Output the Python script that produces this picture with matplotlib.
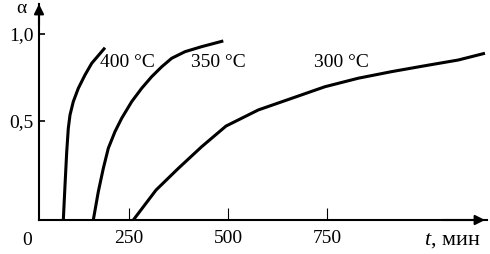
import matplotlib
matplotlib.use("Agg")
import matplotlib.pyplot as plt
import matplotlib.transforms as mtransforms

plt.rcParams['font.family'] = ['Liberation Serif', 'DejaVu Serif']
plt.rcParams['mathtext.fontset'] = 'custom'
plt.rcParams['mathtext.it'] = 'Liberation Serif:italic'
plt.rcParams['mathtext.rm'] = 'Liberation Serif'

# Data (t in minutes, alpha)
t_400 = [84.1, 88.4, 92.7, 96.7, 101.0, 109.3, 122.0, 138.9, 155.8, 189.4]
a_400 = [-0.073, 0.129, 0.321, 0.456, 0.533, 0.610, 0.687, 0.764, 0.831, 0.921]

t_350 = [159.8, 172.5, 185.1, 197.7, 214.6, 231.5, 256.8, 282.0, 307.3, 332.6,
         357.8, 391.4, 433.5, 488.1]
a_350 = [-0.073, 0.091, 0.225, 0.341, 0.437, 0.514, 0.610, 0.687, 0.754, 0.811,
         0.860, 0.898, 0.927, 0.960]

t_300 = [260.8, 318.2, 374.5, 433.5, 494.9, 576.5, 660.8, 744.9, 829.0, 913.3,
         997.4, 1081.5, 1148.9]
a_300 = [-0.073, 0.100, 0.225, 0.350, 0.469, 0.562, 0.629, 0.696, 0.745, 0.783,
         0.817, 0.850, 0.889]

curve_labels = ["400 °C", "350 °C", "300 °C"]
label_x = [176.8, 406.5, 715.9]
label_y = [0.81, 0.81, 0.81]

xticks = [250, 500, 750]
xtick_labels = ["250", "500", "750"]
yticks = [0.5, 1.0]
ytick_labels = ["0,5", "1,0"]

W, H = 490, 254
fig = plt.figure(figsize=(W / 100, H / 100), dpi=100)
ax = fig.add_axes([39 / W, 1 - 220 / H, 448 / W, 216 / H])
ax.set_xlim(22.7, 1154)
ax.set_ylim(-0.0727, 1.173)

for t, a in [(t_400, a_400), (t_350, a_350), (t_300, a_300)]:
    ax.plot(t, a, color='black', lw=2.2, solid_capstyle='butt', solid_joinstyle='round')

for txt, x, y in zip(curve_labels, label_x, label_y):
    ax.text(x, y, txt, fontsize=14, ha='left', va='baseline')

for s in ['top', 'right']:
    ax.spines[s].set_visible(False)
for s in ['left', 'bottom']:
    ax.spines[s].set_linewidth(1.5)

ax.set_xticks(xticks)
ax.set_xticklabels(xtick_labels)
ax.set_yticks(yticks)
ax.set_yticklabels(ytick_labels)
ax.tick_params(axis='x', direction='in', length=8.6, width=0.8, pad=7, labelsize=14)
ax.tick_params(axis='y', direction='in', length=4.3, width=1.2, pad=4, labelsize=14)

# arrows
astyle = '-|>,head_length=0.58,head_width=0.29'
ax.annotate('', xy=((485 - 39) / 448, 0), xytext=(0.9, 0), xycoords='axes fraction',
            arrowprops=dict(arrowstyle=astyle, color='black', lw=1.5,
                            mutation_scale=10, shrinkA=0, shrinkB=0))
ax.annotate('', xy=(0, 1), xytext=(0, 0.9), xycoords='axes fraction',
            arrowprops=dict(arrowstyle=astyle, color='black', lw=1.5,
                            mutation_scale=10, shrinkA=0, shrinkB=0))

trans = mtransforms.blended_transform_factory(ax.transData, ax.transAxes)
ax.text(-7.6, -12 / 216, "0", transform=trans, ha='center', va='top', fontsize=14)

ax.text(481 / W, 1 - 245 / H, r"$\mathit{t}$, мин", transform=fig.transFigure,
        ha='right', va='baseline', fontsize=16)
ax.text(21 / W, 1 - 13 / H, "α", transform=fig.transFigure,
        ha='center', va='baseline', fontsize=14)

fig.savefig("out.png", dpi=100)
